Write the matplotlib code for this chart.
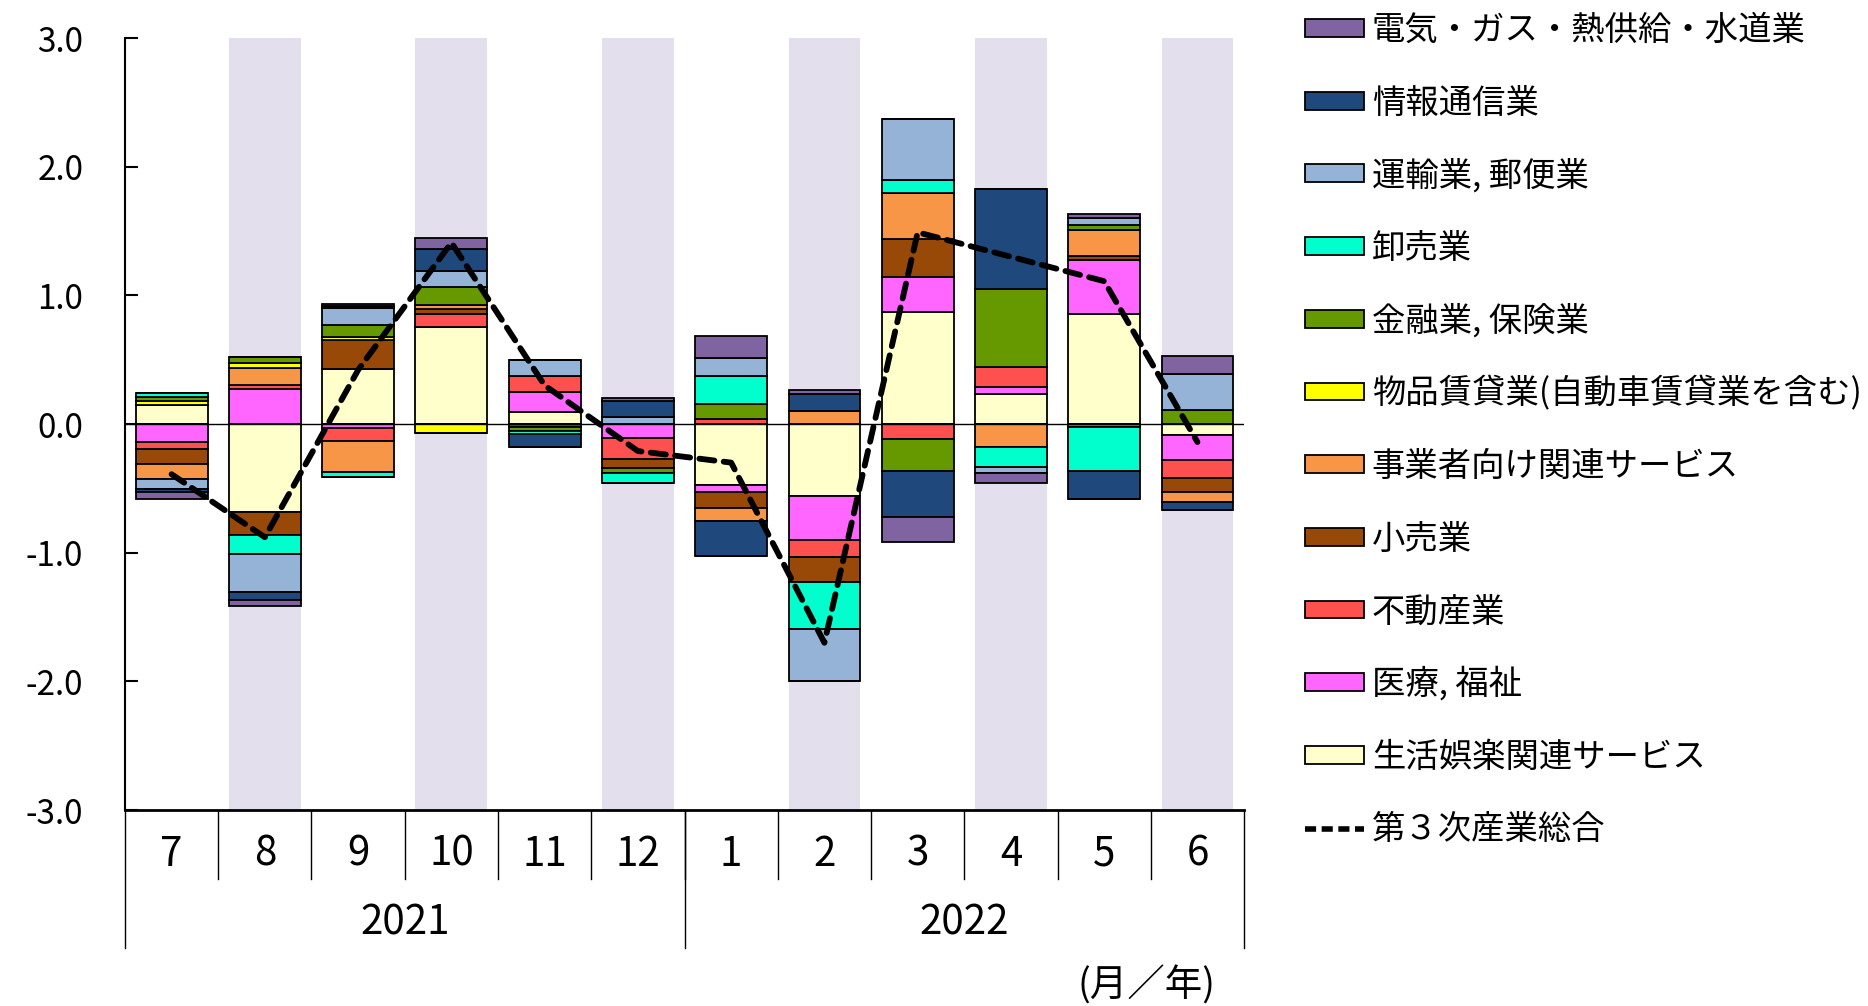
import numpy as np
import matplotlib
matplotlib.use('Agg')
import matplotlib.pyplot as plt
from matplotlib.patches import Patch
from matplotlib.lines import Line2D

plt.rcParams['font.family'] = ['Noto Sans CJK JP', 'DejaVu Sans']

months = ['7', '8', '9', '10', '11', '12', '1', '2', '3', '4', '5', '6']
years = ['2021', '2022']

# contributions by industry (stack order: bottom -> top)
seikatsu = [0.145, -0.68, 0.43, 0.755, 0.096, 0.0, -0.475, -0.56, 0.874, 0.233, 0.859, -0.086]
iryo     = [-0.14, 0.275, -0.03, 0.0, 0.15, -0.109, -0.052, -0.342, 0.272, 0.052, 0.412, -0.197]
fudosan  = [-0.057, 0.026, -0.10, 0.10, 0.125, -0.16, 0.041, -0.132, -0.119, 0.161, -0.02, -0.137]
kouri    = [-0.114, -0.179, 0.22, 0.039, -0.02, -0.073, -0.125, -0.192, 0.29, 0.0, 0.034, -0.112]
jigyosha = [-0.12, 0.132, -0.246, 0.031, 0.0, 0.0, -0.104, 0.10, 0.363, -0.182, 0.20, -0.075]
buppin   = [0.035, 0.039, 0.029, -0.07, 0.0, 0.0, 0.0, 0.0, 0.0, 0.0, 0.0, 0.0]
kinyu    = [0.03, 0.047, 0.091, 0.14, -0.035, -0.039, 0.114, 0.0, -0.244, 0.602, 0.045, 0.106]
oroshi   = [0.03, -0.15, -0.034, 0.0, -0.02, -0.078, 0.218, -0.368, 0.099, -0.15, -0.342, 0.0]
unyu     = [-0.073, -0.295, 0.13, 0.127, 0.13, 0.055, 0.143, -0.40, 0.472, -0.052, 0.055, 0.28]
joho     = [-0.023, -0.062, 0.018, 0.169, -0.10, 0.122, -0.272, 0.13, -0.363, 0.781, -0.22, -0.065]
denki    = [-0.052, -0.052, 0.018, 0.086, 0.0, 0.026, 0.171, 0.035, -0.192, -0.078, 0.025, 0.14]

total = [-0.39, -0.88, 0.42, 1.41, 0.30, -0.21, -0.30, -1.70, 1.49, 1.30, 1.11, -0.14]

series = [
    ('生活娯楽関連サービス', seikatsu, '#FFFFCC'),
    ('医療, 福祉', iryo, '#FF66FF'),
    ('不動産業', fudosan, '#FF5050'),
    ('小売業', kouri, '#984807'),
    ('事業者向け関連サービス', jigyosha, '#F79646'),
    ('物品賃貸業(自動車賃貸業を含む)', buppin, '#FFFF00'),
    ('金融業, 保険業', kinyu, '#669900'),
    ('卸売業', oroshi, '#00FFCC'),
    ('運輸業, 郵便業', unyu, '#95B3D7'),
    ('情報通信業', joho, '#1F497D'),
    ('電気・ガス・熱供給・水道業', denki, '#8064A2'),
]

fig = plt.figure(figsize=(18.68, 10.06), dpi=100)
ax = fig.add_axes([0.0669, 0.1948, 0.5991, 0.7674])

x = np.arange(len(months))
width = 0.77

for i in range(1, len(months), 2):
    ax.axvspan(i - width / 2, i + width / 2, color='#E4DFEC', zorder=0, lw=0)

pos_bottom = np.zeros(len(months))
neg_bottom = np.zeros(len(months))
for name, vals, col in series:
    v = np.array(vals)
    pos = np.where(v > 0, v, 0)
    neg = np.where(v < 0, v, 0)
    ax.bar(x, pos, width, bottom=pos_bottom, color=col, edgecolor='black', linewidth=1.3, zorder=2)
    ax.bar(x, neg, width, bottom=neg_bottom, color=col, edgecolor='black', linewidth=1.3, zorder=2)
    pos_bottom += pos
    neg_bottom += neg

ax.axhline(0, color='black', lw=1.0, zorder=3)
ax.plot(x, total, color='black', lw=4.2, linestyle=(0, (2.6, 1.6)), dash_capstyle='round', zorder=4)

ax.set_xlim(-0.5, 11.5)
ax.set_ylim(-3, 3)
ax.set_yticks(np.arange(-3, 4, 1))
ax.set_yticklabels(['%.1f' % t for t in np.arange(-3, 4, 1)], fontsize=24)
ax.tick_params(axis='y', direction='in', length=9, width=1.5, pad=30)
ax.set_xticks([])
ax.spines['top'].set_visible(False)
ax.spines['right'].set_visible(False)
ax.spines['left'].set_linewidth(1.5)
ax.spines['bottom'].set_linewidth(2.0)

# month / year table under the axis
trans = ax.get_xaxis_transform()
for i, m in enumerate(months):
    ax.text(i, -0.057, m, transform=trans, ha='center', va='center', fontsize=29)
for b in np.arange(0.5, 11, 1):
    ax.plot([b, b], [0, -0.089], transform=trans, color='black', lw=1.0, clip_on=False)
for b in [-0.5, 5.5, 11.5]:
    ax.plot([b, b], [0, -0.179], transform=trans, color='black', lw=1.0, clip_on=False)
ax.text(2.5, -0.146, years[0], transform=trans, ha='center', va='center', fontsize=29)
ax.text(8.5, -0.146, years[1], transform=trans, ha='center', va='center', fontsize=29)

fig.text(0.6135, 0.02, '(月／年)', ha='center', va='center', fontsize=27)

handles = [Patch(facecolor=col, edgecolor='black', linewidth=1.3) for name, vals, col in series[::-1]]
labels = [name for name, vals, col in series[::-1]]
handles.append(Line2D([0], [0], color='black', lw=4.0, linestyle=(0, (2.0, 1.0))))
labels.append('第３次産業総合')
fig.legend(handles, labels, loc='upper left', bbox_to_anchor=(0.688, 1.007), frameon=False,
           fontsize=24, labelspacing=1.13, handlelength=1.75, handleheight=0.45,
           handletextpad=0.25, borderaxespad=0.2)

fig.savefig('out.png', dpi=100)
